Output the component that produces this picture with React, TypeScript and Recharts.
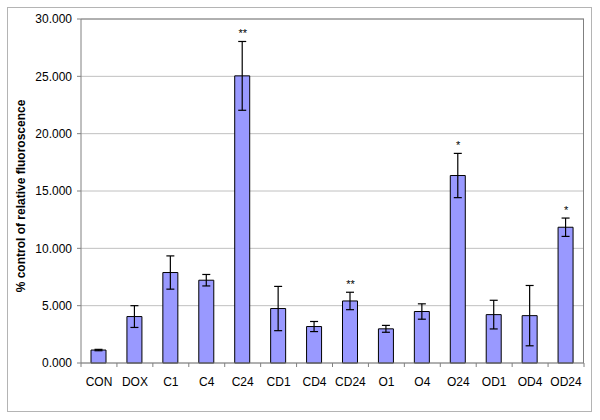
import React from 'react';
import { ComposedChart, Bar, Line, XAxis, YAxis, CartesianGrid, ErrorBar, LabelList, ReferenceLine } from 'recharts';

const categories = ['CON', 'DOX', 'C1', 'C4', 'C24', 'CD1', 'CD4', 'CD24', 'O1', 'O4', 'O24', 'OD1', 'OD4', 'OD24'];
const means = [1.13, 4.05, 7.89, 7.22, 25.04, 4.75, 3.18, 5.41, 2.98, 4.49, 16.35, 4.22, 4.13, 11.84];
const errors = [0.06, 0.95, 1.45, 0.5, 3.0, 1.93, 0.44, 0.76, 0.3, 0.67, 1.93, 1.25, 2.63, 0.8];
const significance = ['', '', '', '', '**', '', '', '**', '', '', '*', '', '', '*'];
const yTicks = [0, 5, 10, 15, 20, 25, 30];

const data = categories.map((c, i) => ({
  name: c,
  mean: means[i],
  err: errors[i],
  top: means[i] + errors[i],
  sig: significance[i],
}));

const FONT = '"Liberation Sans", Arial, sans-serif';
const W = 600;
const H = 420;
const X_H = 30;
const M = { top: 19, right: 16, bottom: 57 - X_H, left: 7 };
const Y_W = 74;
const PLOT_W = W - M.left - M.right - Y_W;
const PLOT_H = H - M.top - M.bottom - X_H;
const BAND = PLOT_W / categories.length;

const XTick = (props: any) => {
  const { x, y, payload, index } = props;
  return (
    <g>
      <line x1={x - BAND / 2} x2={x - BAND / 2} y1={y} y2={y + 4} stroke="#808080" />
      {index === categories.length - 1 && (
        <line x1={x + BAND / 2} x2={x + BAND / 2} y1={y} y2={y + 4} stroke="#808080" />
      )}
      <text x={x} y={y + 23} textAnchor="middle" fontSize={12} fill="#000" fontFamily={FONT}>
        {payload.value}
      </text>
    </g>
  );
};

const YLabel = (props: any) => {
  const vb = props.viewBox || { x: M.left, y: M.top, width: Y_W, height: PLOT_H };
  const cx = vb.x + 14;
  const cy = vb.y + vb.height / 2 + 5;
  return (
    <text
      x={cx}
      y={cy}
      transform={`rotate(-90, ${cx}, ${cy})`}
      textAnchor="middle"
      dominantBaseline="central"
      fontSize={12}
      fontWeight="bold"
      fill="#000"
      fontFamily={FONT}
    >
      % control of relative fluoroscence
    </text>
  );
};

export default function App() {
  return (
    <div style={{ position: 'absolute', left: 0, top: 0, width: W, height: H, background: '#fff', fontFamily: FONT }}>
      <div
        style={{
          position: 'absolute',
          left: 7,
          top: 7,
          width: 583,
          height: 403,
          border: '1px solid #b4b4b4',
        }}
      />
      <div style={{ position: 'absolute', left: 0, top: 0 }}>
        <ComposedChart width={W} height={H} data={data} margin={M}>
          <CartesianGrid vertical={false} stroke="#c0c0c0" strokeWidth={1} />
          <XAxis
            dataKey="name"
            height={X_H}
            tick={<XTick />}
            tickLine={false}
            tickSize={0}
            tickMargin={0}
            axisLine={{ stroke: '#808080' }}
            interval={0}
          />
          <YAxis
            domain={[0, 30]}
            ticks={yTicks}
            width={Y_W}
            tickFormatter={(v: number) => v.toFixed(3)}
            tick={{ fontSize: 12, fill: '#000', fontFamily: FONT }}
            tickSize={4}
            tickMargin={5}
            axisLine={{ stroke: '#808080' }}
            tickLine={{ stroke: '#808080' }}
            label={<YLabel />}
          />
          <ReferenceLine y={30} stroke="#808080" />
          <Bar dataKey="mean" fill="#9999ff" stroke="#000" strokeWidth={1} barSize={15} isAnimationActive={false}>
            <ErrorBar dataKey="err" width={4} stroke="#000" strokeWidth={1.2} direction="y" />
          </Bar>
          <Line
            dataKey="top"
            stroke="none"
            dot={false}
            activeDot={false}
            isAnimationActive={false}
            legendType="none"
          >
            <LabelList dataKey="sig" position="top" offset={4} fontSize={11} fill="#000" fontFamily={FONT} />
          </Line>
        </ComposedChart>
      </div>
      <div
        style={{
          position: 'absolute',
          left: M.left + Y_W,
          top: M.top,
          width: PLOT_W,
          height: PLOT_H,
          borderRight: '1px solid #808080',
          boxSizing: 'border-box',
          pointerEvents: 'none',
        }}
      />
    </div>
  );
}
